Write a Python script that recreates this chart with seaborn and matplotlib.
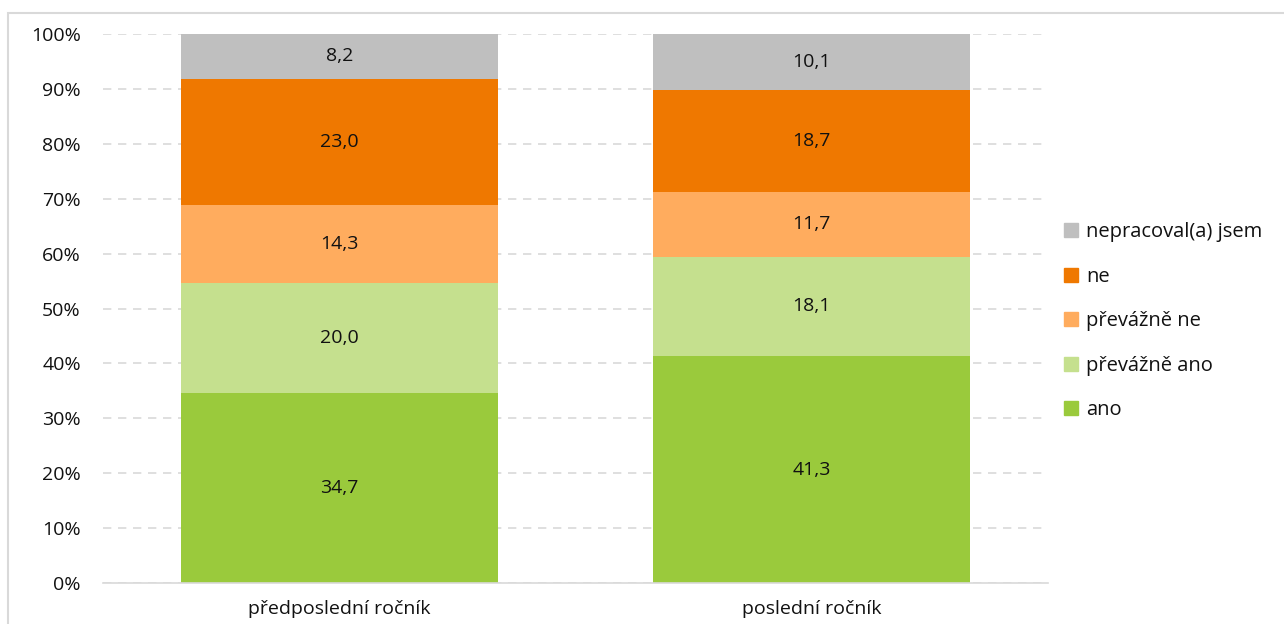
import matplotlib
matplotlib.use("Agg")
import matplotlib.pyplot as plt
import seaborn as sns
import pandas as pd
import numpy as np
from matplotlib.patches import Rectangle, Patch
from matplotlib.ticker import MultipleLocator, PercentFormatter

# data
groups = ["předposlední ročník", "poslední ročník"]
answers = ["ano", "převážně ano", "převážně ne", "ne", "nepracoval(a) jsem"]
ano = [34.7, 41.3]
prevazne_ano = [20.0, 18.1]
prevazne_ne = [14.3, 11.7]
ne = [23.0, 18.7]
nepracoval = [8.2, 10.1]
colors = ["#9ACA3C", "#C5E08E", "#FFAC5E", "#EF7800", "#BFBFBF"]

sns.set_style("white")
plt.rcParams["font.family"] = ["Open Sans", "DejaVu Sans"]

values = np.array([ano, prevazne_ano, prevazne_ne, ne, nepracoval])
shares = values / values.sum(axis=0) * 100  # 100 % stacked
cum = shares.cumsum(axis=0)

fig = plt.figure(figsize=(12.84, 6.24), dpi=100)
ax = fig.add_axes([103 / 1284, 1 - 583 / 624, 945 / 1284, 549 / 624])

# draw cumulative totals from the top layer down so they stack
for i in reversed(range(len(answers))):
    layer = pd.DataFrame({"group": groups, "top": cum[i]})
    sns.barplot(data=layer, x="group", y="top", color=colors[i], width=0.67,
                saturation=1, linewidth=0, ax=ax, zorder=2)

for j in range(len(groups)):
    for i in range(len(answers)):
        mid = cum[i, j] - shares[i, j] / 2
        ax.text(j, mid, f"{values[i, j]:.1f}".replace(".", ","),
                ha="center", va="center", fontsize=14, color="#111111", zorder=3)

ax.set_ylim(0, 100)
ax.set_xlim(-0.5, 1.5)
ax.yaxis.set_major_locator(MultipleLocator(10))
ax.yaxis.set_major_formatter(PercentFormatter(decimals=0))
ax.grid(axis="y", linestyle=(0, (5, 4)), color="#D9D9D9", linewidth=1.2, zorder=0)
ax.set_axisbelow(True)
ax.set_xlabel("")
ax.set_ylabel("")
for s in ["top", "right", "left"]:
    ax.spines[s].set_visible(False)
ax.spines["bottom"].set_color("#D9D9D9")
ax.spines["bottom"].set_linewidth(1.2)
ax.tick_params(axis="both", length=0, labelsize=14, colors="#111111")
ax.tick_params(axis="x", pad=12)
ax.tick_params(axis="y", pad=16)

handles = [Patch(color=colors[i], label=answers[i]) for i in reversed(range(len(answers)))]
fig.legend(handles=handles, loc="upper left", bbox_to_anchor=(1046 / 1284, 1 - 204 / 624),
           frameon=False, fontsize=14.5, handlelength=0.7, handleheight=0.7,
           handletextpad=0.4, labelspacing=1.22, labelcolor="#111111")

fig.patches.append(Rectangle((8 / 1284, -0.1), 1.2, 1.1 - 13 / 624, transform=fig.transFigure,
                             fill=False, edgecolor="#D9D9D9", linewidth=1.5))

fig.savefig("out.png", dpi=100)
